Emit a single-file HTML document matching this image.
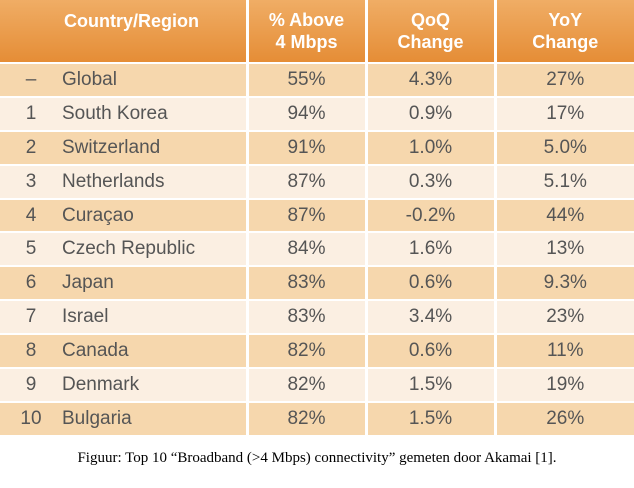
<!DOCTYPE html>
<html><head><style>
body{margin:0;width:634px;height:488px;background:#fff;position:relative;overflow:hidden;font-family:"Liberation Sans",sans-serif}
table{position:absolute;left:0;top:0;width:634px;border-collapse:collapse;table-layout:fixed}
td,th{padding:0;border-right:3px solid #fff;border-bottom:2px solid #fff;color:#555;font-size:19px;text-align:center;box-sizing:border-box}
td:last-child,th:last-child{border-right:none}
th{height:63px;background:linear-gradient(#f0ad65,#e58d36);color:#fff;font-size:18px;line-height:22px;font-weight:bold}
tr.d td{background:#f6d7ad}
tr.l td{background:#fbefe2}
td{height:33.9px}
.rk{display:inline-block;width:62px;text-align:center}
td.n{text-align:left}
.cap{position:absolute;left:0;width:634px;top:450px;text-align:center;font-family:"Liberation Serif",serif;font-size:15px;color:#000}
</style></head><body>
<table>
<colgroup><col style="width:247px"><col style="width:119px"><col style="width:129px"><col style="width:139px"></colgroup>
<tr><th style="text-align:left;padding-left:64px;vertical-align:top;padding-top:10px">Country/Region</th><th>% Above<br>4 Mbps</th><th>QoQ<br>Change</th><th>YoY<br>Change</th></tr>
<tr class="d"><td class="n"><span class="rk">–</span>Global</td><td>55%</td><td>4.3%</td><td>27%</td></tr>
<tr class="l"><td class="n"><span class="rk">1</span>South Korea</td><td>94%</td><td>0.9%</td><td>17%</td></tr>
<tr class="d"><td class="n"><span class="rk">2</span>Switzerland</td><td>91%</td><td>1.0%</td><td>5.0%</td></tr>
<tr class="l"><td class="n"><span class="rk">3</span>Netherlands</td><td>87%</td><td>0.3%</td><td>5.1%</td></tr>
<tr class="d"><td class="n"><span class="rk">4</span>Curaçao</td><td>87%</td><td>-0.2%</td><td>44%</td></tr>
<tr class="l"><td class="n"><span class="rk">5</span>Czech Republic</td><td>84%</td><td>1.6%</td><td>13%</td></tr>
<tr class="d"><td class="n"><span class="rk">6</span>Japan</td><td>83%</td><td>0.6%</td><td>9.3%</td></tr>
<tr class="l"><td class="n"><span class="rk">7</span>Israel</td><td>83%</td><td>3.4%</td><td>23%</td></tr>
<tr class="d"><td class="n"><span class="rk">8</span>Canada</td><td>82%</td><td>0.6%</td><td>11%</td></tr>
<tr class="l"><td class="n"><span class="rk">9</span>Denmark</td><td>82%</td><td>1.5%</td><td>19%</td></tr>
<tr class="d"><td class="n"><span class="rk">10</span>Bulgaria</td><td>82%</td><td>1.5%</td><td>26%</td></tr>
</table>
<div class="cap">Figuur: Top 10 “Broadband (&gt;4 Mbps) connectivity” gemeten door Akamai [1].</div>
</body></html>
